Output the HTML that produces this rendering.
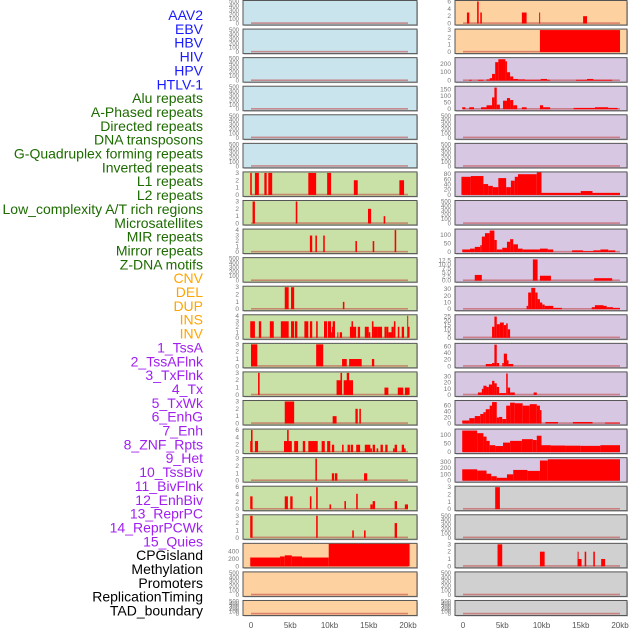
<!DOCTYPE html>
<html><head><meta charset="utf-8">
<style>
html,body{margin:0;padding:0;background:#fff;}
svg{display:block;font-family:"Liberation Sans",sans-serif;}
</style></head>
<body>
<svg id="chart" width="630" height="630" viewBox="0 0 630 630" xmlns="http://www.w3.org/2000/svg">
<g id="labels"></g>
<g id="panels"></g>
<g id="xaxes"></g>
</svg>
<script>
const trackLabels = ["AAV2","EBV","HBV","HIV","HPV","HTLV-1","Alu repeats","A-Phased repeats","Directed repeats","DNA transposons","G-Quadruplex forming repeats","Inverted repeats","L1 repeats","L2 repeats","Low_complexity A/T rich regions","Microsatellites","MIR repeats","Mirror repeats","Z-DNA motifs","CNV","DEL","DUP","INS","INV","1_TssA","2_TssAFlnk","3_TxFlnk","4_Tx","5_TxWk","6_EnhG","7_Enh","8_ZNF_Rpts","9_Het","10_TssBiv","11_BivFlnk","12_EnhBiv","13_ReprPC","14_ReprPCWk","15_Quies","CPGisland","Methylation","Promoters","ReplicationTiming","TAD_boundary"];
const labelGroups = ["virus","virus","virus","virus","virus","virus","repeat","repeat","repeat","repeat","repeat","repeat","repeat","repeat","repeat","repeat","repeat","repeat","repeat","sv","sv","sv","sv","sv","state","state","state","state","state","state","state","state","state","state","state","state","state","state","state","other","other","other","other","other"];
const xTickValues = [0,5,10,15,20];
const xTickLabels = ["0","5kb","10kb","15kb","20kb"];
const emptyTicks = [0,100,200,300,400,500];

const leftBg = ["blue","blue","blue","blue","blue","blue","green","green","green","green","green","green","green","green","green","green","green","green","green","orange","orange","orange"];
const leftMax = [500,500,500,500,500,500,3,3,4,500,3,4,3,3,3,6,3,6,3,600,500,500];
const leftTicks = [null,null,null,null,null,null,[0,1,2,3],[0,1,2,3],[0,1,2,3,4],null,[0,1,2,3],[0,1,2,3,4],[0,1,2,3],[0,1,2,3],[0,1,2,3],[0,2,4,6],[0,1,2,3],[0,2,4,6],[0,1,2,3],[0,200,400],null,null];
const leftSeries = [
 [],[],[],[],[],[],
 [[-0.1,0.1,3],[0.5,1.0,3],[1.7,2.0,3],[2.2,2.7,3],[7.3,8.3,3],[9.7,10.2,3],[13.1,13.6,2],[18.9,19.5,2]],
 [[0.2,0.5,3],[5.7,5.9,3],[14.9,15.3,2],[16.9,17.1,1]],
 [[7.5,7.8,3],[8.2,8.4,3],[9.2,9.4,3],[13.3,13.5,2],[15.5,15.7,2],[18.3,18.5,4]],
 [],
 [[4.3,4.8,3],[5.1,5.5,3],[11.7,11.9,1]],
 [[-0.1,0.5,3],[1.0,1.3,3],[2.4,2.9,3],[3.8,4.8,3],[5.1,5.5,3],[5.6,5.9,3],[6.8,7.3,3],[7.5,7.8,3],[8.3,8.5,3],[9.3,9.7,3],[9.8,10.2,3],[10.2,10.3,1],[10.3,10.4,2],[10.4,10.7,3],[11.0,11.1,1],[11.3,11.6,1],[12.6,13.4,2],[12.8,13.0,3],[13.6,13.9,2],[14.5,15.0,2],[15.0,15.2,1],[15.4,15.6,3],[15.6,16.1,2],[16.1,16.7,2],[17.0,17.3,2],[17.3,17.5,2],[17.5,17.9,1],[17.9,18.2,2],[18.2,18.4,3],[18.7,18.9,2],[19.2,19.5,2],[19.9,20.0,4],[20.0,20.2,2]],
 [[0,0.8,3],[8.3,9.2,3],[11.6,12.2,1],[12.5,14.1,1],[15.4,15.7,1]],
 [[0.9,1.1,3],[10.9,11.6,2],[11.4,11.6,3],[11.8,13.0,2],[12.2,12.5,3],[17.0,17.5,1],[18.7,19.4,1],[19.6,20.2,1]],
 [[4.3,5.5,3],[10.4,10.9,1],[13.3,13.6,2],[13.8,14.0,2]],
 [[-0.1,0.2,3],[0.0,0.2,6],[0.5,0.9,3],[4.2,5.2,3],[4.6,4.8,6],[5.5,6.0,3],[6.6,6.9,3],[7.3,8.5,3],[9.0,9.4,3],[9.7,10.1,3],[10.3,10.6,2],[11.6,11.8,2],[12.3,12.6,2],[12.7,13.0,2],[13.4,13.9,2],[14.5,15.2,2],[15.2,15.4,1],[15.5,15.8,2],[16.0,16.2,1],[16.5,16.8,2],[17.1,17.4,2],[18.1,18.3,1],[18.3,18.6,2],[19.2,19.5,2],[19.5,19.7,1]],
 [[8.2,8.4,3],[10.3,10.6,1],[10.7,11.0,1],[14.4,14.8,1]],
 [[-0.1,0.2,3.5],[4.3,4.7,3.5],[5.0,5.3,3.5],[7.5,7.7,3.5],[8.3,8.5,6],[10.0,10.2,1.3],[11.9,12.1,2.2],[13.4,13.6,4.2],[15.2,15.5,1.3],[15.5,15.8,2.2],[18.3,18.6,2.2],[19.6,20.0,1.3]],
 [[-0.1,0.2,3],[8.3,8.5,3],[12.9,13.1,1],[14.4,14.6,1],[18.3,18.6,2]],
 [[-0.1,3.7,240],[3.7,4.3,270],[4.3,5.2,300],[5.2,6.5,270],[6.5,9.9,240],[9.9,20.2,620]],
 [],[]
];

const rightBg = ["orange","orange","purple","purple","purple","purple","purple","purple","purple","purple","purple","purple","purple","purple","purple","purple","purple","gray","gray","gray","gray","gray"];
const rightMax = [6,3,262,168,500,500,85,500,128,13.5,33,26,66,36,74,128,350,3,500,3,500,500];
const rightTicks = [[0,2,4,6],[0,1,2,3],[0,100,200],[0,50,100,150],null,null,[0,20,40,60,80],null,[0,50,100],[0,2.5,5,7.5,10,12.5],[0,10,20,30],[0,5,10,15,20,25],[0,20,40,60],[0,10,20,30],[0,20,40,60],[0,50,100],[0,100,200,300],[0,1,2,3],null,[0,1,2,3],null,null];
const rightSeries = [
 [[0.5,0.8,3],[1.8,2.0,6],[2.2,2.4,3],[7.5,8.1,3],[9.7,9.8,3],[15.3,15.8,2]],
 [[9.8,20.0,3]],
 [[0.8,1.1,10],[1.9,2.6,10],[3.0,3.4,15],[3.4,3.7,30],[3.7,4.1,80],[4.1,4.5,220],[4.5,5.4,255],[5.4,5.6,230],[5.6,6.0,100],[6.0,6.4,50],[6.4,7.0,20],[7.0,7.9,15],[7.9,9.9,10],[9.9,10.7,20],[10.7,11.1,10],[14.4,15.8,10],[15.8,16.6,20],[16.6,19.0,10]],
 [[-0.1,0.3,15],[0.8,1.4,15],[2.3,3.0,15],[3.0,3.7,30],[3.7,4.0,90],[4.0,4.3,165],[4.3,4.7,35],[5.1,5.6,65],[5.6,6.0,85],[6.0,6.4,70],[6.4,6.9,30],[7.5,8.1,15],[9.8,10.2,30],[10.2,11.1,15],[14.1,15.1,10],[15.1,16.8,10],[16.8,18.5,15],[18.5,19.7,10]],
 [],[],
 [[-0.2,1.0,70],[1.0,2.6,73],[2.6,3.2,42],[3.2,3.8,35],[3.8,4.5,30],[4.5,5.5,65],[5.5,6.1,30],[6.1,6.6,55],[6.6,7.0,70],[7.0,9.4,80],[9.4,10.0,87],[10.0,15.0,8],[15.0,16.5,15],[16.5,20.0,8]],
 [],
 [[-0.1,0.9,15],[0.9,1.5,20],[1.5,2.2,30],[2.2,2.4,40],[2.4,2.8,90],[2.8,3.4,110],[3.4,4.0,125],[4.0,4.3,70],[4.3,5.0,15],[5.0,5.6,25],[5.6,6.0,60],[6.0,6.4,75],[6.4,7.0,45],[7.0,7.6,20],[7.6,9.8,15],[9.8,10.8,20],[10.8,11.5,15],[13.9,15.3,10],[15.3,16.6,5],[16.6,17.5,10],[17.5,18.5,15],[18.5,19.4,10]],
 [[1.5,2.4,3.5],[8.9,9.5,13],[9.8,11.2,3],[16.7,19.0,1.5]],
 [[8.1,8.3,5],[8.3,8.7,25],[8.7,9.2,32],[9.2,9.5,25],[9.5,9.8,15],[9.8,10.1,10],[10.1,10.4,7],[10.4,11.5,5],[11.5,12.6,2],[16.4,16.8,3],[16.8,17.9,6],[17.9,18.3,5],[18.3,19.1,3],[19.1,20.0,2]],
 [[3.7,4.0,13],[4.0,4.3,25],[4.3,4.7,16],[4.7,5.2,18],[5.2,5.5,15],[5.5,5.7,17],[5.7,6.0,10]],
 [[2.9,3.7,7],[3.7,4.0,10],[4.0,4.3,65],[4.3,4.6,10],[5.0,5.2,10],[5.2,5.6,38],[5.6,5.8,18],[5.8,6.4,7]],
 [[1.9,2.4,4],[2.4,2.6,10],[2.6,3.0,15],[3.0,3.3,13],[3.3,3.7,17],[3.7,4.0,23],[4.0,4.3,19],[4.3,4.6,13],[4.6,5.1,3],[5.1,5.5,3],[5.5,5.7,35],[5.7,6.0,12],[6.0,6.6,4],[9.0,9.4,4]],
 [[-0.1,0.8,10],[0.8,1.5,18],[1.5,2.2,25],[2.2,2.6,32],[2.6,2.9,38],[2.9,3.4,48],[3.4,3.7,60],[3.7,4.3,72],[4.3,4.6,20],[4.6,5.0,22],[5.0,5.5,15],[5.5,6.0,60],[6.0,6.6,70],[6.6,7.6,68],[7.6,8.5,60],[8.5,9.4,65],[9.4,9.8,60],[9.8,10.0,45],[10.5,12.1,5],[14.0,16.5,5],[18.1,20.0,3]],
 [[-0.1,1.8,125],[1.8,2.6,110],[2.6,3.0,90],[3.0,3.4,65],[3.4,4.1,40],[4.1,5.1,35],[5.1,6.0,55],[6.0,7.5,65],[7.5,8.9,75],[8.9,9.4,70],[9.4,10.0,95],[10.0,11.2,40],[11.2,13.0,38],[13.0,15.0,37],[15.0,17.5,36],[17.5,20.0,40]],
 [[-0.1,1.8,180],[1.8,3.0,160],[3.0,3.6,110],[3.6,4.3,70],[4.3,5.6,45],[5.6,6.4,100],[6.4,8.2,170],[8.2,9.8,155],[9.8,10.8,320],[10.8,20.0,340]],
 [[4.1,4.7,3]],
 [],
 [[4.4,5.0,3],[9.8,10.4,2],[14.6,15.1,1],[14.6,14.7,2],[15.5,15.7,2],[16.6,16.8,2],[17.6,18.1,1]],
 [],[]
];

const bgColors = {blue:"#c9e4ec",green:"#c9e1a7",orange:"#fed1a0",purple:"#d7c7e2",gray:"#d0d0d0"};
const labelColors = {virus:"#1a1aff",repeat:"#1d6b00",sv:"#ffa500",state:"#a020f0",other:"#000"};
const NS = "http://www.w3.org/2000/svg";
function mk(tag, attrs, parent){const e=document.createElementNS(NS,tag);for(const k in attrs)e.setAttribute(k,attrs[k]);parent.appendChild(e);return e;}

// labels
const lg = document.getElementById('labels');
trackLabels.forEach((t,i)=>{
  const el = mk('text',{x:203,y:(20+i*13.85).toFixed(1),'text-anchor':'end','font-size':'14',fill:labelColors[labelGroups[i]]},lg);
  el.textContent = t;
  
  
});

const pg = document.getElementById('panels');
const ROWH = 28.57;
function panelBox(i){const top=i*ROWH+0.5;const h=(i===21)?15:24.5;return {top,h};}
function drawColumn(x0, x1, zeroX, bgs, maxes, ticks, series, side){
  const pxPerKb = 7.85;
  const xs = kb => zeroX + kb*pxPerKb;
  for(let i=0;i<bgs.length;i++){
    const {top,h} = panelBox(i);
    const g = mk('g',{},pg);
    
    
    mk('rect',{x:x0+1,y:top+1,width:x1-x0,height:h,fill:'#9a9a9a',opacity:0.6},g);
    mk('rect',{x:x0,y:top,width:x1-x0,height:h,fill:bgColors[bgs[i]],stroke:'#555','stroke-width':1},g);
    const zeroY = top + h - 1.5;
    const topY = top + 1;
    const max = maxes[i];
    const ys = v => zeroY - Math.min(v/max,1.04)*(zeroY-topY);
    const tks = ticks[i] || emptyTicks;
    tks.forEach(t=>{
      const lab = mk('text',{x:x0-4,y:(ys(t)+2).toFixed(1),'text-anchor':'end','font-size':(ticks[i]?6.5:6),fill:'#777'},g);
      lab.textContent = (max===13.5)? t.toFixed(1) : String(t);
      
      
    });
    // baseline
    mk('rect',{x:xs(0),y:zeroY-1.2,width:xs(20)-xs(0),height:1.6,fill:'#c04040',opacity:0.55},g);
    series[i].forEach(s=>{
      const y = Math.max(ys(s[2]), top+0.5);
      const b = mk('rect',{x:xs(s[0]).toFixed(2),y:y.toFixed(2),width:Math.max(1,(xs(s[1])-xs(s[0]))).toFixed(2),height:(zeroY-y).toFixed(2),fill:'#ff0000'},g);
      
      
    });
  }
  const xg = document.getElementById('xaxes');
  xTickValues.forEach((v,k)=>{
    const t = mk('text',{x:xs(v).toFixed(1),y:628,'text-anchor':'middle','font-size':'8',fill:'#555'},xg);
    t.textContent = xTickLabels[k];
    
    
  });
}
drawColumn(243, 417, 251, leftBg, leftMax, leftTicks, leftSeries, 'left');
drawColumn(455, 627, 463, rightBg, rightMax, rightTicks, rightSeries, 'right');
</script>
</body></html>
